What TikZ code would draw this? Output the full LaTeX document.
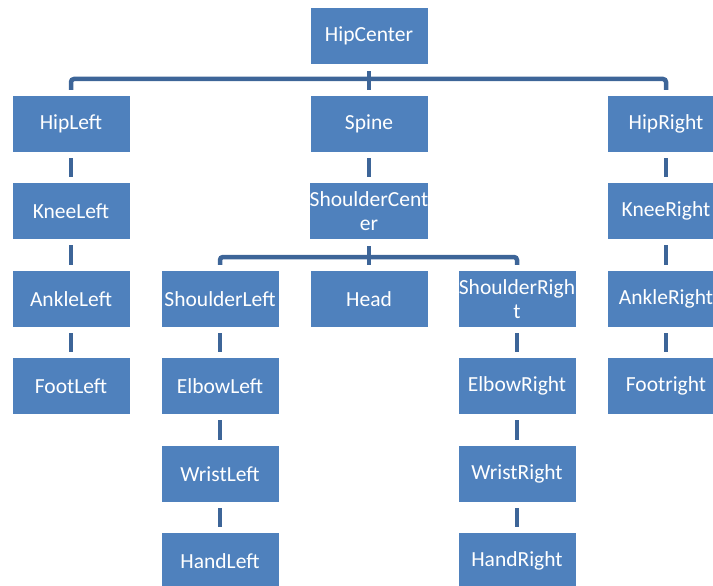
\documentclass[tikz,border=0pt]{standalone}
\usepackage{fontspec}
\setmainfont{Carlito}
\definecolor{boxblue}{HTML}{4F81BD}
\definecolor{connblue}{HTML}{3D6598}
\begin{document}
\begin{tikzpicture}[x=1pt,y=-1pt,
  jbox/.style={fill=boxblue, draw=none, minimum width=117pt, minimum height=56pt,
    inner sep=0pt, align=center, text=white,
    font=\fontsize{21.5}{24.5}\selectfont},
  conn/.style={draw=connblue, line width=4.5pt},
  tree/.style={conn, rounded corners=3pt}]
\useasboundingbox (0,0) rectangle (713,586);
% columns: 71, 220, 369, 517, 666 ; rows: 36,124,211,299,386,474,561
\node[jbox] (hc) at (369,36) {HipCenter};
\node[jbox] (hl) at (71,124) {HipLeft};
\node[jbox] (sp) at (369,124) {Spine};
\node[jbox] (hr) at (666,124) {HipRight};
\node[jbox] (kl) at (71,211) {KneeLeft};
\node[jbox] (sc) at (369,211) {ShoulderCent\\er};
\node[jbox] (kr) at (666,211) {KneeRight};
\node[jbox] (al) at (71,299) {AnkleLeft};
\node[jbox] (sl) at (220,299) {ShoulderLeft};
\node[jbox] (hd) at (369,299) {Head};
\node[jbox] (sr) at (517,299) {ShoulderRigh\\t};
\node[jbox] (ar) at (666,299) {AnkleRight};
\node[jbox] (fl) at (71,386) {FootLeft};
\node[jbox] (el) at (220,386) {ElbowLeft};
\node[jbox] (er) at (517,386) {ElbowRight};
\node[jbox] (fr) at (666,386) {Footright};
\node[jbox] (wl) at (220,474) {WristLeft};
\node[jbox] (wr) at (517,474) {WristRight};
\node[jbox] (hnl) at (220,561) {HandLeft};
\node[jbox] (hnr) at (517,561) {HandRight};
% tree connectors
\coordinate (b1) at (369,79);
\coordinate (b2) at (369,257);
\draw[conn] ([yshift=-7pt]hc.south) -- ([yshift=6pt]sp.north);
\draw[tree] ([yshift=6pt]hl.north) |- (b1) -| ([yshift=6pt]hr.north);
\draw[conn] ([yshift=-7pt]sc.south) -- ([yshift=6pt]hd.north);
\draw[tree] ([yshift=6pt]sl.north) |- (b2) -| ([yshift=6pt]sr.north);
% chain connectors
\foreach \a/\b in {hl/kl, kl/al, al/fl, sp/sc, hr/kr, kr/ar, ar/fr,
                   sl/el, el/wl, wl/hnl, sr/er, er/wr, wr/hnr}
  \draw[conn] ([yshift=-6pt]\a.south) -- ([yshift=6pt]\b.north);
\end{tikzpicture}
\end{document}
